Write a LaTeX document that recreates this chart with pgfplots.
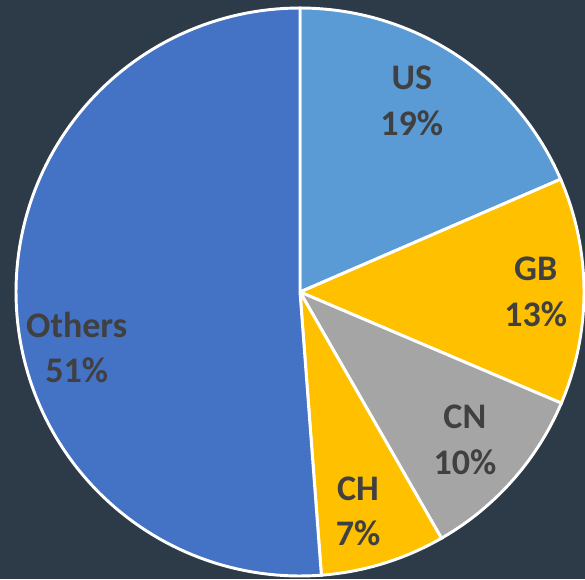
\documentclass[border=0pt]{standalone}
\usepackage{pgfplots}
\pgfplotsset{compat=1.18}
\usepgfplotslibrary{polar}
\usepackage{fontspec}
\setmainfont{Carlito}
\definecolor{bg}{HTML}{2D3B48}
\definecolor{cUS}{HTML}{5B9BD5}
\definecolor{cGB}{HTML}{FFC000}
\definecolor{cCN}{HTML}{A5A5A5}
\definecolor{cCH}{HTML}{FFC000}
\definecolor{cOT}{HTML}{4472C4}
\definecolor{lab}{HTML}{404040}
\tikzset{lbl/.style={font=\bfseries\fontsize{27}{34}\selectfont, text=lab, align=center}}
\begin{document}
\begin{tikzpicture}
\path[use as bounding box, fill=bg] (0,0) rectangle (438.75pt,434.25pt);
\begin{polaraxis}[
  hide axis, scale only axis, width=426pt, height=426pt,
  at={(225pt,215.25pt)}, anchor=center,
  ymin=0, ymax=1, clip=false,
]
% shares: US 18.5, GB 12.9, CN 10.3, CH 7.1, Others 51.2 (percent), clockwise from top
\addplot[fill=cUS, draw=white, line width=2.2pt, domain=23.4:90, samples=60] {1} -- (axis cs:0,0) -- cycle;
\addplot[fill=cGB, draw=white, line width=2.2pt, domain=-23.04:23.4, samples=60] {1} -- (axis cs:0,0) -- cycle;
\addplot[fill=cCN, draw=white, line width=2.2pt, domain=-60.12:-23.04, samples=60] {1} -- (axis cs:0,0) -- cycle;
\addplot[fill=cCH, draw=white, line width=2.2pt, domain=-85.68:-60.12, samples=60] {1} -- (axis cs:0,0) -- cycle;
\addplot[fill=cOT, draw=white, line width=2.2pt, domain=-270:-85.68, samples=120] {1} -- (axis cs:0,0) -- cycle;
\node[lbl] at (axis cs:59.7,0.78) {US\\19\%};
\node[lbl] at (axis cs:0,0.83) {GB\\13\%};
\node[lbl] at (axis cs:-41.9,0.78) {CN\\10\%};
\node[lbl] at (axis cs:-75.2,0.80) {CH\\7\%};
\node[lbl] at (axis cs:193.9,0.81) {Others\\51\%};
\end{polaraxis}
\end{tikzpicture}
\end{document}
